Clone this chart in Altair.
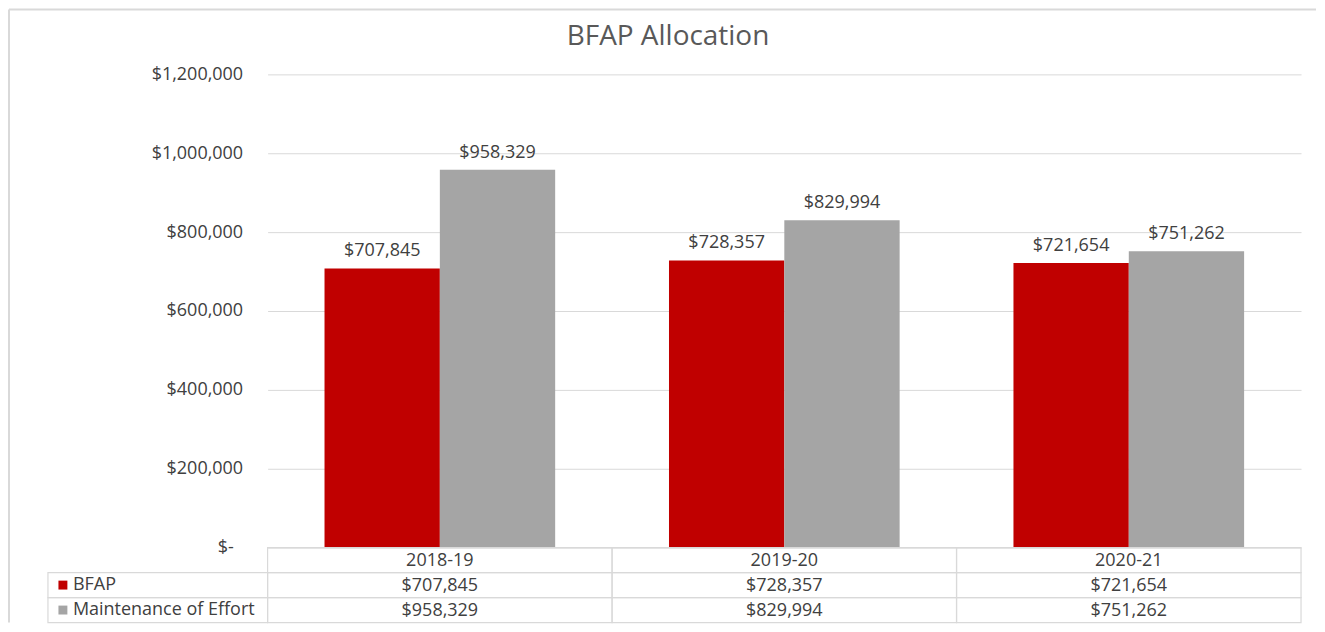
import altair as alt
import pandas as pd

categories = ["2018-19", "2019-20", "2020-21"]
series = ["BFAP", "Maintenance of Effort"]
bfap_values = [707845, 728357, 721654]
moe_values = [958329, 829994, 751262]
y_ticks = [0, 200000, 400000, 600000, 800000, 1000000, 1200000]
colors = ["#C00000", "#A5A5A5"]
title_text = "BFAP Allocation"

records = []
for c, b, m in zip(categories, bfap_values, moe_values):
    records.append({"cat": c, "series": series[0], "value": b})
    records.append({"cat": c, "series": series[1], "value": m})
df = pd.DataFrame(records)
cat_df = pd.DataFrame({"cat": categories, "row": ["header"] * len(categories)})
grid_df = pd.DataFrame([{"cat": c, "row": r} for c in categories for r in ["header"] + series])
legend_df = pd.DataFrame({"series": series})

W, H = 1035, 474
FONT = "Open Sans"
TXT = "#404040"
GRID = "#d9d9d9"
FS = 18

row_scale = alt.Scale(domain=["header"] + series, range=[H, H + 75], paddingInner=0, paddingOuter=0)
yscale = alt.Scale(domain=[0, 1200000], nice=False, zero=True)
xscale = alt.Scale(domain=categories, paddingInner=0, paddingOuter=0)
x = alt.X("cat:N", scale=xscale, axis=None, sort=categories)
color = alt.Color("series:N", scale=alt.Scale(domain=series, range=colors), legend=None)
xoff = alt.XOffset("series:N", scale=alt.Scale(domain=series, paddingInner=0, paddingOuter=0.4935))

base = alt.Chart(df)

bars = base.mark_bar().encode(
    x=x,
    xOffset=xoff,
    y=alt.Y(
        "value:Q",
        scale=yscale,
        axis=alt.Axis(
            values=y_ticks, title=None, domain=False, ticks=False, grid=True,
            gridColor=GRID, gridWidth=1, labelPadding=25, labelFontSize=FS,
            labelColor=TXT, labelFont=FONT,
            labelExpr="datum.value === 0 ? '$-\u00a0\u00a0\u200b' : format(datum.value, '$,')",
        ),
    ),
    color=color,
)

labels = base.mark_text(baseline="bottom", dy=-8, fontSize=FS, color=TXT, font=FONT).encode(
    x=x,
    xOffset=xoff,
    y=alt.Y("value:Q", scale=yscale, axis=None),
    text=alt.Text("value:Q", format="$,.0f"),
)

cells = alt.Chart(grid_df).mark_rect(fillOpacity=0, stroke=GRID, strokeWidth=1.2).encode(
    x=x,
    y=alt.Y("row:N", scale=row_scale, axis=None),
)

head_cells = alt.Chart(legend_df).mark_rect(fillOpacity=0, stroke=GRID, strokeWidth=1.2).encode(
    x=alt.value(-220),
    x2=alt.value(0),
    y=alt.Y("series:N", scale=row_scale, axis=None),
)

cat_text = alt.Chart(cat_df).mark_text(fontSize=FS, color=TXT, font=FONT, baseline="middle", dy=1).encode(
    x=x,
    y=alt.Y("row:N", scale=row_scale, axis=None),
    text="cat:N",
)

val_text = base.mark_text(fontSize=FS, color=TXT, font=FONT, baseline="middle", dy=1).encode(
    x=x,
    y=alt.Y("series:N", scale=row_scale, axis=None),
    text=alt.Text("value:Q", format="$,.0f"),
)

legend_sq = alt.Chart(legend_df).mark_square(size=80, opacity=1).encode(
    x=alt.value(-205),
    y=alt.Y("series:N", scale=row_scale, axis=None),
    color=color,
)

legend_txt = alt.Chart(legend_df).mark_text(fontSize=FS, color=TXT, font=FONT, align="left", baseline="middle").encode(
    x=alt.value(-195),
    y=alt.Y("series:N", scale=row_scale, axis=None),
    text="series:N",
)

title = alt.Chart(pd.DataFrame({"t": [title_text]})).mark_text(
    fontSize=28, color="#595959", font=FONT, baseline="middle"
).encode(x=alt.value(401), y=alt.value(-37), text="t:N")

frame_left = alt.Chart(pd.DataFrame({"a": [0]})).mark_rule(color=GRID, strokeWidth=2).encode(
    x=alt.value(-259), y=alt.value(-65), y2=alt.value(549)
)
frame_top = alt.Chart(pd.DataFrame({"a": [0]})).mark_rule(color=GRID, strokeWidth=2).encode(
    x=alt.value(-259), x2=alt.value(1050), y=alt.value(-65)
)

chart = (
    alt.layer(bars, labels, cells, head_cells, cat_text, val_text, legend_sq, legend_txt, title, frame_left, frame_top)
    .resolve_scale(y="independent")
    .properties(width=W, height=H, padding=0, background="white")
    .configure_view(stroke=None)
)

chart.save("out.html", embed_options={"renderer": "svg", "actions": False})
